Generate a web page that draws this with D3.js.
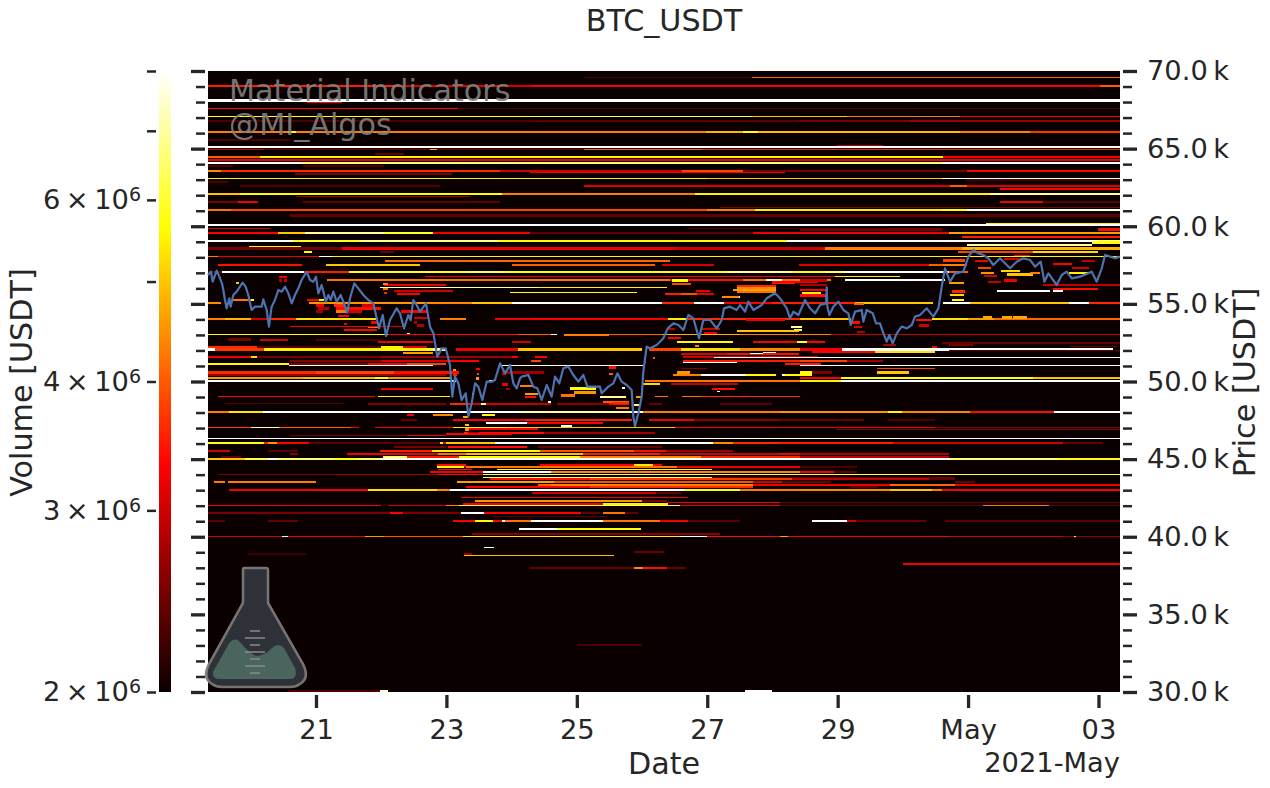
<!DOCTYPE html>
<html>
<head>
<meta charset="utf-8">
<script src="https://cdn.jsdelivr.net/npm/d3@7"></script>
<style>
  html, body { margin: 0; background: #fff; }
  text { font-family: "DejaVu Sans", sans-serif; fill: #262626; }
</style>
</head>
<body>
<script>
'use strict';

// days are counted from 2021-04-21 00:00 UTC
let DAY_ZERO = Date.UTC(2021, 3, 21);
let DAY_MIN = -1.656;
let DAY_MAX = 12.33;

let titleText = 'BTC_USDT';
let markLabels = ['Material Indicators', '@MI_Algos'];

let dateTicks = [0, 2, 4, 6, 8, 10, 12];
let dateTickLabels = ['21', '23', '25', '27', '29', 'May', '03'];
let priceMajorTicks = [30000, 35000, 40000, 45000, 50000, 55000, 60000, 65000, 70000];
let priceMinorTicks = d3.range(30000, 70001, 1000).filter((p) => p % 5000 !== 0);
let volumeTicks = [2e6, 3e6, 4e6, 5e6, 6e6, 7e6, 8e6];
let volumeLabelled = [2e6, 3e6, 4e6, 6e6];

// order book rows: [price, from day, to day, volume in millions]
let upperWide = [
  [69030,-1.66,1.3,3.5],[69030,1.3,3.3,3.05],[69030,3.3,12.02,3.25],[69030,12.02,12.33,4.0],
  [68090,-1.66,12.33,8],
  [66780,-1.66,1.3,2.3],[66780,1.3,3.28,2.3],[66780,3.28,7.4,2.35],[66780,7.4,9.1,2.5],[66780,9.1,12.33,2.7],
  [66090,-1.66,-.43,4.3],[66090,-.43,-.31,5.7],[66090,-.31,5.98,4.3],[66090,5.98,6.55,4.8],[66090,6.55,6.78,5.7],[66090,6.78,9.88,4.9],[66090,9.88,10.95,4.3],[66090,10.95,12.33,3.7],
  [65556,-1.66,-.4,2.3],
  [65086,-1.66,12.33,8],
  [64654,.9,1.35,2.4],
  [64480,-1.66,-.86,4.0],[64480,-.86,9.62,5.5],[64480,9.62,12.33,3.2],
  [64074,-1.66,-.25,8],[64074,-.25,9.6,6.6],[64074,9.6,12.33,8],
  [63578,-1.66,-1.45,4.4],[63578,-1.45,2.82,3.6],[63578,2.82,5.61,3.0],[63578,5.61,6.55,3.8],[63578,6.55,9.98,2.5],[63578,9.98,12.33,3.3],
  [63366,-.32,2.09,2.5],
  [62097,-1.66,-1.17,5.0],[62097,-1.17,2.85,5.6],[62097,2.85,5.81,4.3],[62097,5.81,10.34,5.5],[62097,10.34,12.33,7],
  [61581,-1.66,-.89,2.5],[61581,-1.2,-.89,3.2],[61581,-.2,2.82,2.35],[61581,10.49,11.15,3.2],[61581,11.15,12.33,2.35],
  [61047,-1.66,-1.3,4.2],[61047,-1.3,6.0,3.8],[61047,6.0,6.73,4.3],[61047,6.73,9.6,5.4],[61047,9.6,9.98,5.7],[61047,9.98,12.33,7.8],
  [60683,-.4,12.33,2.4],
  [60165,10.28,12.33,5.5],
  [60062,-1.66,12.33,8],
  [59566,-1.66,-.58,3.3],[59566,-.58,-.17,5],[59566,-.17,1.05,7],[59566,1.05,1.8,6],[59566,1.8,3.28,3.2],[59566,3.28,6.7,2.35],[59566,6.7,9.7,3.2],[59566,9.7,12.33,4.6],
  [59327,9.9,12.33,3.5],[59790,7.42,9.6,2.5],[59800,12,12.33,3.4],
  [59050,-1.66,-.36,8],[59050,-.36,.68,5.8],[59050,.68,2.8,6.8],[59050,2.8,7.22,5.6],[59050,7.22,12,8],[59050,12,12.33,6.6],
  [58793,9.98,11.9,7],[58950,11.9,12.33,5.7],
  [58682,-1.03,-.23,5.7],
  [58567,-1.66,.4,2.5],[58567,.4,5.5,3.2],[58567,5.5,7.8,3.0],[58567,7.8,9.9,4.3],[58567,9.9,12.33,4.8],
  [58342,-.18,-.06,5.7],[58342,9.85,11,3.8],[58342,11,12,5.2],[58342,.98,1.2,2.4]
];
let upperThin = [
  [69590,4.11,6.69,2.3],[69590,6.69,12.33,4.1],
  [67985,-.14,.4,3.3],
  [67597,-1.66,2.18,3.4],[67597,2.18,12.33,2.3],
  [67069,-1.66,3.28,5.8],[67069,3.28,6.69,6.3],[67069,6.69,8.14,5.0],[67069,8.14,9.88,4.3],[67069,9.88,12.33,3.2],
  [65190,7.99,8.7,2.8],
  [64950,-1.66,-.8,3.0],[64950,-.8,4.11,2.5],[64950,4.11,5.9,4.1],[64950,5.9,12.33,3.6],[64950,1.75,1.85,4.8],
  [64268,-1.66,12.33,3.2],
  [63881,-1.66,-1.27,2.3],[63881,-.2,1.05,2.3],
  [63450,3.28,7.19,3.2],
  [63090,-1.66,6,5.5],[63090,6,9.6,5],[63090,9.6,12.33,8],
  [62850,-1.66,-1.35,2.3],[62980,9.95,12.33,2.3],
  [62593,-1.17,1.9,2.3],[62593,4.11,9.72,3.1],[62593,9.72,9.98,4],[62593,9.98,12.33,3.1],
  [62400,10.49,12.33,3.3],
  [61904,-.31,2.36,2.7],
  [61195,6.2,12.33,2.5],
  [60062,-1.66,12.33,8],
  [59868,5.69,8.76,2.3],[59868,-1.66,-.7,3.1],
  [58065,-1.66,-1.5,4.3],[58065,-1.5,.05,3.2],[58065,.05,.25,8],[58065,.25,12.33,5.5]
];
let middleWide = [
  [57780,1.06,5.43,4.1],
  [57505,-1.5,-.22,3.4],[57505,.15,1.6,5.0],[57505,3,5.2,4.0],[57505,5.3,6.1,3.0],[57505,7.4,9.4,3.1],[57505,9.4,9.98,4],
  [57073,-1.66,-1.44,2.4],[57073,-1.44,-.18,8],[57073,-.18,.5,3.5],[57073,.5,2.35,5.9],[57073,2.35,2.9,6.4],[57073,2.9,6.3,5.7],[57073,6.3,7.3,7],[57073,7.3,7.8,5.7],[57073,7.8,8.1,6.5],[57073,8.1,9.7,8],[57073,9.7,10,4],
  [56538,.17,5.43,4.2],[56538,5.43,6.55,3.4],[56538,6.55,7.9,4.2],[56538,8.11,9.65,8],
  [56216,1.05,2,3.2],[56216,11.15,12.33,2.9],
  [55830,1.2,2.1,3.0],[55637,1.25,1.6,3.3],
  [55849,10.44,11.26,8],[55849,11.3,11.45,8],
  [55250,-1.27,-1.0,4.2],[55250,-1.0,-.95,5.7],
  [55076,-1.66,-1.45,4.4],[55076,-.1,1.7,4.5],[55076,1.7,2.4,4.4],[55076,2.4,3.0,5],[55076,3.0,5.3,8],[55076,5.3,5.8,3.6],[55076,5.8,6.25,8],[55076,6.25,7,3.3],[55076,7,8.27,3.5],[55076,8.27,9.46,5.0],[55076,9.62,10.03,8],[55076,10.03,11.55,5],[55076,11.55,11.85,8],[55076,11.85,12.33,3.6],
  [54700,.3,1.0,3.4],[54500,.3,.7,3.0],[54500,1.3,1.7,3.3],
  [54046,-1.66,-1.4,4.3],[54046,-1.4,-1,4.8],[54046,-1,-.7,3.0],[54046,-.7,-.3,3.6],[54046,-.3,.95,5.3],[54046,1.9,2.3,4.3],[54046,2.75,3.3,3.2],[54046,3.3,5.4,3.3],[54046,5.4,5.7,5.5],[54046,5.7,7.42,3.6],[54046,7.42,8.2,5],[54046,9.45,10,5.3],[54046,10,10.4,4.6],[54046,10.4,12.33,4.1],[54130,10.23,10.37,4.7],[54130,10.52,10.67,4.7],[54130,10.69,10.9,4.7],
  [53000,3.8,4.5,4.3],
  [52700,-1.35,-1,2.5],[52654,-.86,-.43,3.0],[52654,0,1,2.3],
  [52560,.95,1.8,3.2],[52560,3,3.3,3.0],[52560,5.54,6.4,5.6],[52560,6.7,7.37,3.2],[52560,7.37,7.53,5.9],[52560,7.53,7.8,3.3],
  [52204,-1.66,-.9,3.6],[52204,-.9,1.0,2.35],[52204,1.0,1.33,5.5],[52204,1.33,1.7,3.2],
  [52062,-1.66,-1.55,8],[52062,-1.55,-.8,3.7],[52062,-.8,1.8,5.5],[52062,1.8,2,7],[52062,2.15,3.1,3.2],[52062,3.1,5,5],[52062,5.1,5.6,3.8],[52062,5.6,6.5,5.2],[52062,6.5,7.42,4.4],[52062,7.42,8.07,3.2],[52062,8.07,12.23,8],[51880,7.6,8.57,3.3],[51880,8.57,9.49,5.3],[51850,6.86,7.06,8],
  [51773,5.6,6.3,3.1],[51773,6.3,7.4,3.4],
  [51559,-1.66,-.9,3.2],[51559,-1,-.8,5.3],[51559,-.9,1,2.5],[51559,1,3,2.7],[51559,3,3.1,3.3],[51559,3.36,3.55,3.3],[51559,5.63,7.7,3.0],
  [51340,-.4,1,2.6],[51340,1,2,3.1],[51340,2,2.5,3.3],[51340,3.3,3.45,3.8],[51340,5.63,7.42,3.5],[51340,7.42,8.15,3.8],[51340,8.15,8.7,2.7],
  [51127,-1.66,-.42,5.6],[51127,-.42,.8,2.5],[51127,.8,1.8,3.3],[51127,1.4,2,3.8],[51127,7.2,7.75,3.5],
  [50580,-1.66,0,3.6],[50580,0,1.2,3.8],[50580,1.2,2.2,3.4],[50580,2.85,3.5,2.7],[50580,5.53,5.73,4.5],[50580,7.42,7.92,2.5],[50580,7.42,7.6,5.6],[50580,8.6,9.1,5],
  [50419,-1.66,2,2.7],[50419,5.48,5.9,4.3],[50419,5.9,6.6,8],[50419,6.6,7.05,5.6],[50419,7.14,7.19,8],[50419,7.19,7.6,5.6],
  [50226,-1.66,-.2,4.6],[50226,-.2,.9,4.9],[50226,.9,1.1,5.7],[50226,1.1,2.05,4.5],[50226,7.42,8.05,3.3],[50226,8.05,8.6,5.7],[50226,8.6,11,5.8],[50226,11,12.33,5.0],
  [50052,-1.66,2.15,8],[50052,5.05,7.8,4.2],[50052,7.42,8.05,5.5],[50052,8.05,12.33,8],
  [49840,5.45,6.47,2.9],
  [49518,1,1.8,3.2],[49518,6.07,6.43,3.4],
  [48532,.8,2,2.5],[48532,2.05,2.35,3.6],[48532,2.35,3.1,3.0],[48532,3.1,3.6,2.9],[48532,3.7,4.5,2.6],[48532,4.5,4.8,3.3],[48532,5.1,5.3,2.4],[48532,6.2,7,2.35],
  [48036,-1.66,-1.33,4.3],[48036,-1.33,-.81,5.4],[48036,-.81,3.13,8],[48036,3.13,4.87,7],[48036,4.87,5,8],[48036,5,7.12,4.3],[48036,7.12,8.77,4.5],[48036,8.77,8.99,5.6],[48036,8.99,10.03,4.4],[48036,10.03,11.32,3.4],[48036,11.32,12.33,8],
  [47862,1.4,1.5,3.3],[47862,1.8,2.1,4.4],[47862,2.55,2.75,5.6],
  [47521,1.3,1.55,2.4],[47521,2.1,3.2,3.3],[47521,3.2,4.85,3.5],[47521,5.1,5.8,3.2],[47521,5.8,7.12,2.6],[47521,7.12,8.4,2.4],[47521,8.77,9.5,2.3],
  [47347,2.61,3.24,8],[47347,3.24,4.4,3.3],
  [47134,3.76,3.93,8]
];
let middleThin = [
  [56751,1.67,5.43,3.2],[56751,5.43,7.96,3.2],[56751,7.96,8.96,5.4],
  [56069,.98,3.4,7],[56069,3.4,5.38,5.5],
  [55746,2.98,4.93,5.7],
  [53569,-.4,.95,3.2],[53569,.95,1.35,3.0],
  [53318,.47,.93,3.3],
  [53015,-1.66,1.1,5.7],[53015,1.1,1.8,3.3],[53015,1.8,3.1,3.4],[53015,3.1,3.6,4],[53015,3.6,3.7,8],[53015,4.5,5.3,4],[53015,5.3,6.5,4.8],[53015,6.5,7.9,4.3],[53015,7.9,12.33,2.9],
  [52480,9.6,12.33,2.4],[52350,9.7,10.08,2.5],[52280,11.56,12.28,2.5],
  [52000,9.7,12.33,2.35],
  [51836,1.33,1.8,4.6],[51780,6.66,6.86,8],
  [51559,6.1,12.33,8],
  [51212,5.63,6.45,8],
  [51043,-.42,1.8,8],[51043,2.82,5.02,7.5],[51043,7.42,12.33,8],
  [50825,8.6,9.5,3.8],[50825,5.6,6,2.6],
  [49840,5.02,5.28,5.2],
  [49344,6.15,6.2,8],
  [49022,-1.5,.9,3.3],[49022,.95,2.05,5.5],[49022,5.2,5.4,4.2],[49022,5.61,5.9,4.2],[49022,5.9,7.42,3.6],
  [48600,-1.4,.45,2.3]
];
let lowerWide = [
  [46922,2.3,3.4,3.3],
  [46684,2.3,5.2,2.7],[46684,2.5,3.5,3.4],[46600,2,3,3.3],
  [46059,-1.66,-.8,5.7],[46059,-.8,-.73,3.5],[46059,-.73,-.6,4.5],[46059,-.6,-.1,3.3],[46059,-.1,1.9,2.35],[46059,1.9,1.95,5.7],[46059,1.95,2,3],[46059,2,2.75,5],[46059,2.75,6.09,8],[46059,6.09,6.4,4.4],[46059,6.4,7.12,3.6],[46059,7.12,8.85,3.5],[46059,8.85,11.46,3],[46059,11.46,12.07,2.4],
  [45763,1.2,2,2.5],[45763,2.03,3.23,3.4],[45763,3.4,5.3,2.4],
  [45544,-1.66,-1.32,3.0],[45544,-.73,-.27,2.35],[45544,.98,1.78,3.5],[45544,1.78,2.3,5.4],[45544,2.3,3.43,5.6],[45544,3.43,4.88,3.9],[45544,4.88,5.37,3.4],[45544,5.37,6.4,2.7],
  [45350,-.4,-.27,2.6],[45350,.47,1.87,3.2],[45350,1.87,2.3,4.2],[45350,2.3,4.1,4.9],[45350,4.1,5.27,3.5],[45350,5.27,7.12,3.0],[45350,7.12,7.43,3.2],[45350,7.43,9.7,2.8],
  [45138,-1.45,-1.15,2.4],[45138,1.03,1.39,6.5],[45138,1.4,2.2,3.5],[45138,2.2,4.05,5.6],[45138,4.05,5.9,4.4],[45138,5.9,7.42,3.6],[45138,7.42,9.7,2.9],
  [45009,-1.66,-1.09,5.0],[45009,-1.09,-.73,6.3],[45009,-.73,-.6,8],[45009,-.6,.26,6.5],[45009,.26,.64,5.7],[45009,.64,1,6.5],[45009,1,9.72,8],[45009,9.72,11.38,6.5],[45009,11.38,12.33,5.7],
  [44590,1.85,2.3,3.4],[44590,3.44,4.87,3.3],[44590,4.87,5.17,5.4],[44590,5.17,5.3,3.3],
  [44152,1.75,2.56,3.3],[44152,2.56,3.6,8],[44152,3.6,7.42,4.4],[44152,7.42,7.95,3.3],[44152,7.95,8.3,2.4],
  [43750,6.07,9.8,2.4],[43701,2.67,4.2,3.4],[43701,4.2,7.3,3.7],[43701,7.3,9.4,2.9],
  [43547,-1.56,-1.4,4.3],[43547,-1.35,0,4.3],[43547,2.16,3.65,4.6],[43547,3.65,6.7,3.9],[43547,6.7,7.14,3.0],[43547,7.14,7.9,2.4],[43547,9.8,10.1,2.4],
  [43334,3.4,3.6,4.0],[43334,3.6,4.5,4.4],[43334,4.5,6.7,4.3],[43334,6.7,8.8,3.2],[43334,8.8,9.8,4.1],[43334,9.8,12.33,3.2],
  [43186,2.3,4.2,3.3],[43186,4.2,6.7,3.6],[43186,8.2,8.6,2.35],
  [43032,-1.34,.8,3.2],[43032,.8,1.29,5.3],[43032,1.29,1.85,5.2],[43032,1.85,2.05,4.4],[43032,2.05,5.64,8],[43032,5.64,6.51,5.7],[43032,6.51,7.42,4.3],[43032,7.42,8.8,4.4],[43032,8.8,9.45,5],[43032,9.45,9.6,4.3],[43032,9.6,12.33,3.3],
  [42838,3.31,5.22,3.0],[42838,5.22,5.6,2.4],
  [42323,2.44,5.0,4.5],[42323,5.0,5.38,2.5],
  [42111,2.26,4.4,3.3],[42111,4.4,5.4,5.5],
  [41551,-1.66,1.13,2.5],[41551,1.13,1.33,3.3],[41551,1.33,2.23,2.5],[41551,2.23,2.57,8],[41551,2.57,4.07,3.3],[41551,4.1,4.36,2.4],[41551,4.4,4.74,4.2],[41551,4.74,4.94,2.4],
  [41035,-1.66,-1.4,2.35],[41035,-.73,-.27,2.4],[41035,2.1,2.44,3.3],[41035,2.44,2.72,5.6],[41035,2.72,2.85,3.3],[41035,2.85,2.9,8],[41035,2.9,3.3,4.2],[41035,3.3,4.4,8],[41035,4.4,5.28,4.2],[41035,5.28,5.7,3.2],[41035,5.7,6.5,2.35],[41035,7.61,8.14,8],[41035,8.14,8.28,3],[41035,8.28,9.35,2.4],[41035,9.65,12.33,2.35],
  [40520,3.11,3.7,8],[40520,3.7,4.98,5.7],
  [40159,2.39,6.2,2.6],
  [39038,4.87,5.33,2.4],
  [38007,3.27,4.87,2.4],[38007,4.87,5.02,4.4],[38007,5.02,5.38,3.4],[38007,5.38,5.68,2.4],
  [30066,-.43,.98,2.3],[30066,.98,1.1,7.5],[30066,6.58,6.99,8]
];
let lowerThin = [
  [47051,-1.66,-.99,3.7],[47051,-.99,-.57,7],[47051,-.57,.53,4.0],[47051,.53,.66,3.2],[47051,.9,2.1,3.2],[47051,2.1,2.9,5.4],[47051,2.9,5.5,5.0],[47051,5.5,7.1,3.3],[47051,7.1,9.5,3.2],[47051,9.5,12.33,2.5],
  [46900,7.98,12.33,2.6],
  [46536,-.4,1.4,2.4],[46536,1.4,2,3.2],
  [46330,-1.66,12.33,8],
  [44494,1.85,2.27,5.6],[44494,2.3,5.53,4.2],[44494,5.53,7.42,3.2],[44494,7.42,8.3,2.3],
  [44320,1.87,2.4,3.4],[44320,2.77,6.07,5.6],
  [44024,-1.48,.3,2.5],[44024,.3,1.87,2.7],[44024,1.87,2.56,3.4],[44024,2.56,12.33,6.3],
  [43830,2.56,6.07,6.5],
  [42542,2.23,5.7,3.2],
  [42220,5.38,7.42,3.2],[42220,7.12,12.33,2.4],
  [42027,-1.66,1,3.2],[42027,1.1,2,3.0],[42027,2,2.2,4.3],[42027,2.2,5.58,6.3],[42027,5.58,7.12,3.1],[42027,7.12,10.23,2.35],[42027,10.23,11.24,4.2],[42027,11.24,12.33,2.35],
  [41319,2.72,4.46,2.35],
  [40030,-1.66,-.52,3.0],[40030,-.52,-.43,8],[40030,-.43,.75,3.2],[40030,.75,1.05,4.5],[40030,1.05,2.25,3.9],[40030,2.25,5.58,5.4],[40030,5.58,5.99,8],[40030,5.99,7.12,3.4],[40030,7.12,7.24,4.6],[40030,7.24,9.7,3.3],[40030,9.7,11.46,3.0],[40030,11.46,12.33,2.6],[40030,11.62,11.66,5.6],
  [39322,2.57,2.73,8],
  [38890,2.27,2.39,2.6],[38890,-1.04,-.14,2.2],
  [38806,2.27,4.57,4.9],
  [38246,9,12.33,3.2],
  [33028,4,5,2.3]
];
// short bursts of volume right around the price line
let priceCells = [
  [56750,-.56,-.45,3.2],[56500,-.56,-.52,2.8],[56500,-.49,-.45,3.0],[56350,-1.22,-1.18,5.0],
  [55250,-.14,.05,3.3],[55250,.05,.13,5.5],[54900,0,.12,3.2],[54700,.03,.2,2.8],[54500,0,.1,2.7],
  [54900,.28,.45,3.6],[54500,.31,.47,4.3],[54200,.33,.5,3.3],[53700,.43,.47,3.2],[53300,.43,.47,3.4],
  [54900,.7,.88,3.0],[53500,.8,.95,4.3],[53800,.85,.95,3.3],
  [56300,1.03,1.1,4.4],[56000,1.03,1.1,4.2],[55700,1.05,1.09,3.6],
  [54100,1.5,1.72,3.0],[53800,1.5,1.55,2.8],[53600,1.55,1.65,2.8],[53050,1.39,1.44,8],
  [50750,2.1,2.15,4.5],[50400,2.1,2.16,3.5],
  [47700,2.26,2.33,4.8],[47200,2.28,2.35,5],[46900,2.28,2.34,4.5],[46700,2.27,2.33,3.6],
  [50800,2.46,2.52,3.3],[50500,2.47,2.5,3.9],[50200,2.46,2.5,4.6],[49800,2.85,2.95,3.2],[49500,2.92,2.98,2.8],
  [49200,2.39,2.42,5.6],[50030,2.66,2.72,8],[48550,2.53,2.6,7],
  [50500,2.85,2.92,3.0],[49700,3.13,3.35,4.3],[49200,3.2,3.4,4.6],[49000,3.2,3.38,3.4],
  [49550,3.9,4.3,5.7],[49300,3.95,4.3,4.5],[49100,3.75,3.97,4.2],[48700,3.56,3.6,7.5],
  [49000,4.35,4.75,7],[48700,4.4,4.8,4.0],[48600,4.55,4.8,3.6],[48300,4.6,4.8,4.3],[49600,4.69,4.74,8],
  [50900,4.5,4.6,3.4],[50500,4.5,4.56,4.0],[49000,4.9,5,4.6],[48500,4.88,4.95,6.5],[48050,5,5.02,7.5],
  [53400,5.9,6.2,3.0],[53100,5.95,6.15,3.3],[52300,5.82,5.87,4.4],[53400,5.4,5.5,2.9],[52800,5.4,5.6,3.3],[51500,5.17,5.2,4.0],
  [53500,7.28,7.45,7],[53300,7.33,7.45,6.5],[53260,6.45,7.4,5],[53950,6.6,7.2,3.2],
  [56120,6.45,7.05,3.6],[55980,6.45,7.05,4.4],[55880,6.4,7.05,4.6],[55780,6.45,7.05,4.2],[56350,7,7.35,3.5],[55460,6.25,6.5,8],[55450,6.22,6.48,4.4],[55680,7.45,7.75,5.5],[56400,7,7.7,3.3],[56540,6.9,7.15,7.5],
  [56300,5.46,5.75,3.8],[56500,5.46,5.7,5.7],[55630,5.35,5.6,3.5],[55630,5.6,5.85,3.9],[55630,5.85,6.1,3.1],[55840,5.83,6.05,3.2],
  [56500,7.42,7.83,3.0],[56200,7.42,7.83,2.8],[55880,7.42,7.83,3.3],[55550,7.42,7.83,3.4],
  [55000,8.25,8.4,4],[53800,8.2,8.35,3.4],[53500,8.25,8.38,3.0],[53200,8.3,8.42,2.8],[52350,8.7,8.9,2.8],[52240,9.45,9.52,3.3],
  [53950,9.2,9.45,3.4],[53600,9.25,9.4,3.0],
  [56350,9.7,9.93,4.6],[55800,9.75,9.95,3.6],[55580,9.72,9.93,5.2],[55250,9.75,9.93,5.8],[57800,9.62,9.95,3.8],[57500,9.62,9.95,4.3],
  [57750,10.1,10.3,3.2],[57300,10.15,10.35,3.8],[57000,10.2,10.4,4.5],[56800,10.25,10.45,3.0],[56400,10.3,10.5,2.9],
  [57100,10.5,10.8,5.2],[56900,10.6,11,5.0],[56500,10.55,10.75,3.2],[57000,10.95,11.1,4.3],[57900,10.55,10.85,3.1],[58100,10.7,10.95,3.4],
  [57550,11.3,11.6,3.3],[57000,11.55,11.85,5.5],[57300,11.6,11.85,3.0],[57750,11.75,11.95,2.9],[55950,11.3,12,3.4]
];
// [day, price]
let priceTrace = [
  [-1.656,56861],[-1.61,57075],[-1.585,56431],[-1.523,57140],[-1.482,56753],[-1.442,56324],[-1.421,55895],[-1.396,55250],[-1.37,54714],[-1.329,55358],[-1.309,54821],[-1.268,55572],[-1.217,55787],[-1.166,56109],[-1.125,56367],[-1.079,56109],[-1.038,55572],[-.987,54606],[-.935,54821],[-.833,54821],[-.808,55293],[-.756,54606],[-.721,53533],[-.68,54821],[-.629,55250],[-.578,55895],[-.526,55787],[-.475,56109],[-.424,55680],[-.373,55036],[-.322,55572],[-.271,56002],[-.22,56539],[-.143,57075],[-.092,56539],[-.041,56431],[0,56753],
  [.036,55680],[.087,56217],[.153,55143],[.189,55572],[.225,55250],[.266,55787],[.317,55143],[.378,55572],[.43,55036],[.476,54434],[.522,55358],[.588,56324],[.649,56002],[.726,55572],[.803,55250],[.88,55036],[.931,54070],[.966,53425],[1.023,54284],[1.074,52932],[1.135,53962],[1.237,54714],[1.288,54392],[1.35,53425],[1.416,54284],[1.452,53962],[1.493,55250],[1.544,54928],[1.595,54499],[1.687,55036],[1.749,53533],[1.8,53103],[1.861,51601],[1.928,52137],[1.989,52137],
  [2.055,51064],[2.091,49024],[2.132,50312],[2.183,49883],[2.234,48809],[2.296,49239],[2.337,47736],[2.388,48595],[2.439,49883],[2.49,49668],[2.551,48809],[2.618,49990],[2.694,49990],[2.745,50098],[2.822,51171],[2.899,50527],[2.975,51064],[3.027,49883],[3.078,49561],[3.129,50205],[3.154,50312],[3.257,50420],[3.333,49668],[3.395,49561],[3.461,48809],[3.538,49776],[3.614,49024],[3.666,50312],[3.732,49883],[3.793,50849],[3.87,50957],[3.947,50420],
  [4.023,49990],[4.1,50420],[4.161,49668],[4.356,49668],[4.381,49239],[4.484,49668],[4.56,49883],[4.622,50527],[4.688,49990],[4.765,49776],[4.841,49454],[4.867,47736],[4.893,47135],[4.944,47951],[4.995,49024],[5.02,50634],[5.071,52245],[5.123,52137],[5.225,52352],[5.327,52781],[5.394,53425],[5.481,53748],[5.557,53640],[5.634,53318],[5.711,54284],[5.787,54070],[5.874,52781],[5.941,53962],
  [6.043,53962],[6.145,53425],[6.222,53962],[6.258,54714],[6.35,54821],[6.452,54606],[6.503,54928],[6.58,54499],[6.631,55143],[6.708,54606],[6.835,54928],[6.912,55358],[7.04,55680],[7.117,55358],[7.219,54714],[7.27,54070],[7.321,54499],[7.398,54284],[7.5,55250],[7.577,54714],[7.654,54392],[7.73,54928],[7.822,55035],[7.832,56066],[7.842,54821],[7.873,54284],[7.934,54821],
  [8.011,55143],[8.088,54606],[8.164,54391],[8.2,53640],[8.267,54499],[8.369,54606],[8.394,53854],[8.445,54606],[8.538,54391],[8.589,53747],[8.65,53747],[8.701,53103],[8.752,52566],[8.793,52996],[8.844,52459],[8.906,53103],[8.982,53533],[9.059,53425],[9.136,53640],[9.187,54177],[9.263,54284],[9.366,54713],[9.468,54177],[9.545,54713],[9.596,56109],[9.647,57290],[9.724,56431],[9.8,56968],[9.928,57075],
  [10.005,58041],[10.081,58471],[10.158,58256],[10.235,58149],[10.312,57934],[10.388,57504],[10.49,57934],[10.644,57290],[10.746,57719],[10.848,57934],[10.951,57827],[11.027,57397],[11.114,57719],[11.17,56431],[11.232,56968],[11.359,56216],[11.436,56860],[11.513,57075],[11.59,56646],[11.717,56753],[11.896,57075],[11.973,56431],[12.05,57290],[12.101,58149],[12.178,58041],[12.254,57934],[12.33,58041]
];

let VOLUME_UNIT = 1e6;
let BIN_WIDE = 150;
let BIN_THIN = 70;
let PLOT = { left: 208, right: 1120, top: 71, bottom: 692 };

let dayToDate = (d) => new Date(DAY_ZERO + d * 864e5);

let x = d3.scaleUtc()
    .domain([dayToDate(DAY_MIN), dayToDate(DAY_MAX)])
    .range([PLOT.left, PLOT.right]);
let y = d3.scaleLinear().domain([30000, 70000]).range([PLOT.bottom, PLOT.top]);
let volY = d3.scaleLog().domain([2e6, 8e6]).range([PLOT.bottom, PLOT.top]);

// same breakpoints as matplotlib's "hot" map, on a log volume axis
let hot = d3.scaleLinear()
    .domain([0, 0.365, 0.746, 1])
    .range(['#0b0000', '#ff0000', '#ffff00', '#ffffff'])
    .clamp(true);
let volPos = d3.scaleLog().domain([2e6, 8e6]).range([0, 1]).clamp(true);
let volColor = (v) => hot(volPos(v));

let svg = d3.select('body')
    .append('svg')
    .attr('width', 1270)
    .attr('height', 788);

svg.append('rect')
    .attr('x', PLOT.left)
    .attr('y', PLOT.top)
    .attr('width', PLOT.right - PLOT.left)
    .attr('height', PLOT.bottom - PLOT.top)
    .attr('fill', hot(0));

function drawRows(rows, binSize, name) {
    svg.append('g')
        .attr('class', name)
        .attr('shape-rendering', 'crispEdges')
        .selectAll('rect')
        .data(rows)
        .enter()
        .append('rect')
        .attr('x', (r) => x(dayToDate(r[1])))
        .attr('width', (r) => x(dayToDate(r[2])) - x(dayToDate(r[1])))
        .attr('y', (r) => Math.min(y(r[0] + binSize / 2), PLOT.bottom - 1))
        .attr('height', (r) => Math.max(1, y(r[0] - binSize / 2) - y(r[0] + binSize / 2)))
        .attr('fill', (r) => volColor(r[3] * VOLUME_UNIT));
}

drawRows(upperWide, BIN_WIDE, 'upper-wide');
drawRows(middleWide, BIN_WIDE, 'middle-wide');
drawRows(lowerWide, BIN_WIDE, 'lower-wide');
drawRows(priceCells, BIN_WIDE, 'price-cells');
drawRows(upperThin, BIN_THIN, 'upper-thin');
drawRows(middleThin, BIN_THIN, 'middle-thin');
drawRows(lowerThin, BIN_THIN, 'lower-thin');

let priceLine = d3.line()
    .x((d) => x(dayToDate(d[0])))
    .y((d) => y(d[1]));

svg.append('path')
    .attr('d', priceLine(priceTrace))
    .attr('fill', 'none')
    .attr('stroke', '#4c72b0')
    .attr('stroke-width', 2.2)
    .attr('stroke-linejoin', 'round');

// colour bar
let gradient = svg.append('defs').append('linearGradient')
    .attr('id', 'hot-bar')
    .attr('x1', 0).attr('y1', 1).attr('x2', 0).attr('y2', 0);
gradient.selectAll('stop')
    .data(d3.range(0, 1.0001, 1 / 64))
    .enter()
    .append('stop')
    .attr('offset', (d) => d)
    .attr('stop-color', (d) => hot(d));

svg.append('rect')
    .attr('x', 159)
    .attr('y', PLOT.top)
    .attr('width', 12)
    .attr('height', PLOT.bottom - PLOT.top)
    .attr('fill', 'url(#hot-bar)');

function styleAxis(g, width) {
    g.select('.domain').remove();
    g.selectAll('line').attr('stroke', '#262626').attr('stroke-width', width);
    g.selectAll('text').attr('font-size', 27.3).attr('fill', '#262626').attr('font-family', 'DejaVu Sans');
}

let volAxis = svg.append('g')
    .attr('transform', 'translate(156,0)')
    .call(d3.axisLeft(volY)
        .tickValues(volumeTicks)
        .tickSize(9)
        .tickPadding(6)
        .tickFormat((v) => volumeLabelled.includes(v) ? String(v / 1e6) + '\u2009\u00d7\u200910' : ''));
styleAxis(volAxis, 2.5);
volAxis.selectAll('text')
    .filter((v) => volumeLabelled.includes(v))
    .append('tspan')
    .attr('dy', '-0.42em')
    .attr('font-size', 19)
    .text('6');

let leftMinor = svg.append('g').attr('transform', 'translate(205,0)')
    .call(d3.axisLeft(y).tickValues(priceMinorTicks).tickSize(9).tickFormat(''));
styleAxis(leftMinor, 2.5);
let leftMajor = svg.append('g').attr('transform', 'translate(205,0)')
    .call(d3.axisLeft(y).tickValues(priceMajorTicks).tickSize(14).tickFormat(''));
styleAxis(leftMajor, 3.3);

let rightMinor = svg.append('g').attr('transform', 'translate(1123,0)')
    .call(d3.axisRight(y).tickValues(priceMinorTicks).tickSize(9).tickFormat(''));
styleAxis(rightMinor, 2.5);
let rightMajor = svg.append('g').attr('transform', 'translate(1123,0)')
    .call(d3.axisRight(y)
        .tickValues(priceMajorTicks)
        .tickSize(14)
        .tickPadding(10)
        .tickFormat((p) => (p / 1000).toFixed(1) + '\u2009k'));
styleAxis(rightMajor, 3.3);

let bottomAxis = svg.append('g').attr('transform', 'translate(0,695)')
    .call(d3.axisBottom(x)
        .tickValues(dateTicks.map(dayToDate))
        .tickSize(13)
        .tickPadding(12)
        .tickFormat((d, i) => dateTickLabels[i]));
styleAxis(bottomAxis, 3.3);

// titles
svg.append('text')
    .attr('x', 664).attr('y', 31)
    .attr('text-anchor', 'middle')
    .attr('font-size', 30.2)
    .text(titleText);
svg.append('text')
    .attr('x', 664).attr('y', 774)
    .attr('text-anchor', 'middle')
    .attr('font-size', 30.2)
    .text('Date');
svg.append('text')
    .attr('x', 1120).attr('y', 772)
    .attr('text-anchor', 'end')
    .attr('font-size', 27.3)
    .text('2021-May');
svg.append('text')
    .attr('transform', 'translate(32,382.5) rotate(-90)')
    .attr('text-anchor', 'middle')
    .attr('font-size', 30.2)
    .text('Volume [USDT]');
svg.append('text')
    .attr('transform', 'translate(1255,382.5) rotate(-90)')
    .attr('text-anchor', 'middle')
    .attr('font-size', 30.2)
    .text('Price [USDT]');

// watermark
svg.selectAll('text.mark')
    .data(markLabels)
    .enter()
    .append('text')
    .attr('class', 'mark')
    .attr('x', 229)
    .attr('y', (d, i) => 101 + i * 34)
    .attr('font-size', 30.2)
    .style('fill', '#808080')
    .attr('opacity', 0.9)
    .text((d) => d);

// flask logo
let logo = svg.append('g').attr('opacity', 0.95);
logo.append('path')
    .attr('d', 'M244,568 H266 Q268,568 268,570 V603 L303,664 Q310,678 300,684 Q296,687 290,687 H222 Q216,687 212,684 Q202,678 209,664 L243,603 V570 Q243,568 244,568 Z')
    .attr('fill', '#30353b')
    .attr('stroke', '#7d7a78')
    .attr('stroke-width', 2.6);
logo.append('path')
    .attr('d', 'M213,672 L228,645 Q234,636 240,642 Q248,652 256,656 Q264,656 272,648 Q278,642 284,648 L295,668 Q298,679 290,679 H220 Q212,679 213,672 Z')
    .attr('fill', '#4d6b64');
logo.selectAll('line')
    .data([[631, 5], [638, 10], [645, 5], [652, 10], [659, 5], [666, 10], [673, 5]])
    .enter()
    .append('line')
    .attr('x1', (d) => 255 - d[1])
    .attr('x2', (d) => 255 + d[1])
    .attr('y1', (d) => d[0])
    .attr('y2', (d) => d[0])
    .attr('stroke', '#8f8f8f')
    .attr('stroke-width', 1.6);
</script>
</body>
</html>
